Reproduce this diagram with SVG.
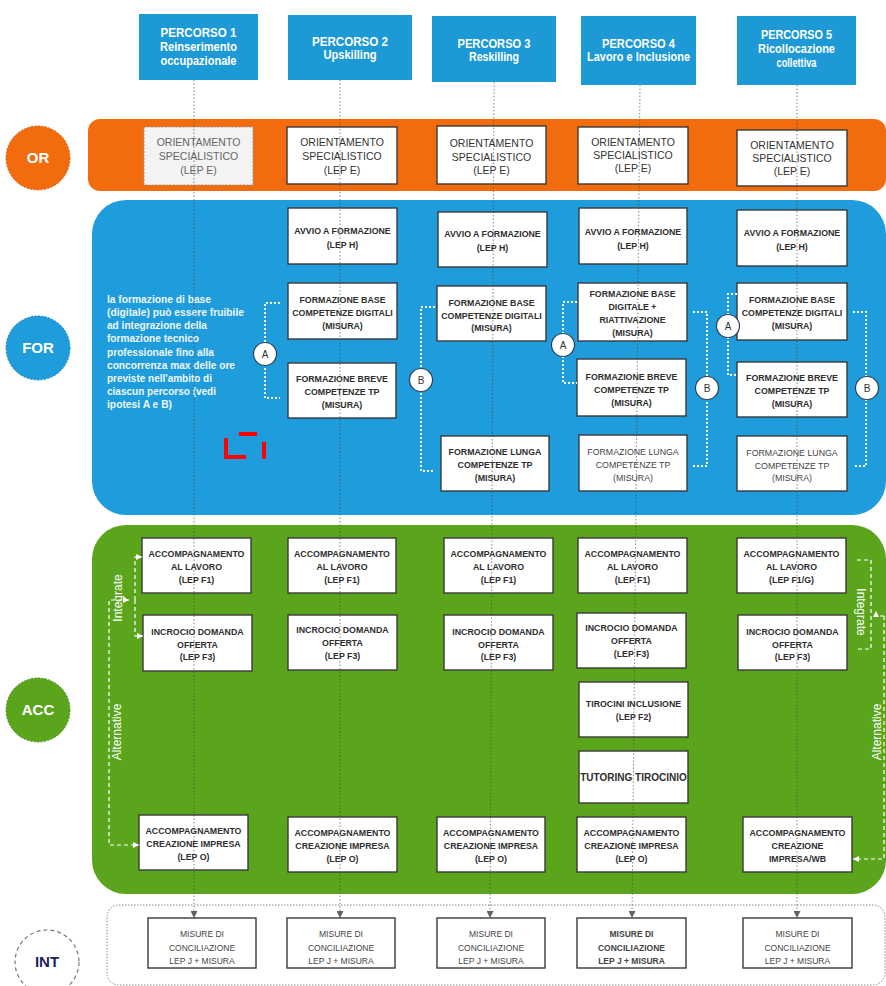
<svg xmlns="http://www.w3.org/2000/svg" width="886" height="986" viewBox="0 0 886 986">
<defs>
<style>
.hdr{fill:#1d9ad6}
.ht{font-family:"Liberation Sans",Arial,sans-serif;font-size:12.5px;font-weight:bold;fill:#fff;text-anchor:middle}
.box{fill:#fff;stroke:#3a3a3a;stroke-width:1.4}
.bt{font-family:"Liberation Sans",Arial,sans-serif;font-size:8.8px;font-weight:bold;fill:#2e2e2e;text-anchor:middle}
.rt{font-family:"Liberation Sans",Arial,sans-serif;font-size:8.8px;fill:#444;text-anchor:middle}
.ot{font-family:"Liberation Sans",Arial,sans-serif;font-size:10.5px;fill:#333;text-anchor:middle}
.it{font-family:"Liberation Sans",Arial,sans-serif;font-size:8.5px;fill:#444;text-anchor:middle}
.lbl{font-family:"Liberation Sans",Arial,sans-serif;font-size:15px;font-weight:bold;fill:#fff;text-anchor:middle}
.ft{font-family:"Liberation Sans",Arial,sans-serif;font-size:11px;font-weight:bold;fill:#eef7fc}
.side{font-family:"Liberation Sans",Arial,sans-serif;font-size:12px;fill:#fff;text-anchor:middle}
.brk{fill:none;stroke:#fff;stroke-width:2;stroke-dasharray:2 2}
.dsh{fill:none;stroke:#fff;stroke-width:1.2;stroke-dasharray:4 3}
.cab{fill:#fff;stroke:#2a3f55;stroke-width:1.2}
.cat{font-family:"Liberation Sans",Arial,sans-serif;font-size:10px;fill:#333;text-anchor:middle}
.col{fill:none;stroke:#444;stroke-width:0.9;stroke-dasharray:1.5 2;opacity:0.7}
</style>
<marker id="ah" viewBox="0 0 10 10" refX="10" refY="5" markerWidth="7" markerHeight="7" orient="auto" markerUnits="userSpaceOnUse"><path d="M0 0 L10 5 L0 10 z" fill="#222"/></marker>
<marker id="wh" viewBox="0 0 10 10" refX="10" refY="5" markerWidth="6" markerHeight="6" orient="auto-start-reverse" markerUnits="userSpaceOnUse"><path d="M0 0 L10 5 L0 10 z" fill="#fff"/></marker>
</defs>

<!-- bands -->
<g id="band-or"><rect x="88" y="119" width="798" height="72" rx="12" fill="#f26b0c"/></g>
<g id="band-for"><rect x="92" y="200" width="794" height="315" rx="34" fill="#1f9cdb"/></g>
<g id="band-acc"><rect x="92" y="525" width="794" height="369" rx="34" fill="#5ba51d"/></g>
<g id="band-int"><rect x="107" y="905" width="778" height="80" rx="12" fill="#fff" stroke="#888" stroke-width="1" stroke-dasharray="1.5 1.5"/></g>

<!-- side circles -->
<g id="c-or"><circle cx="38" cy="158" r="32" fill="#f26b0c" stroke="#d05a0a" stroke-dasharray="2 1.5"/><text class="lbl" x="38" y="163">OR</text></g>
<g id="c-for"><circle cx="38" cy="348" r="32" fill="#1f9cdb" stroke="#1780b8" stroke-dasharray="2 1.5"/><text class="lbl" x="38" y="353">FOR</text></g>
<g id="c-acc"><circle cx="38" cy="710" r="32" fill="#5ba51d" stroke="#4a8a16" stroke-dasharray="2 1.5"/><text class="lbl" x="38" y="715">ACC</text></g>
<g id="c-int"><circle cx="47" cy="962" r="32" fill="#fff" stroke="#777" stroke-width="1.2" stroke-dasharray="4 3"/><text class="lbl" x="47" y="967" style="fill:#1c2456">INT</text></g>

<!-- headers -->
<g id="p1"><rect class="hdr" x="139" y="14" width="119" height="66"/>
<text class="ht" x="198.5" y="37" textLength="76" lengthAdjust="spacingAndGlyphs">PERCORSO 1</text>
<text class="ht" x="198.5" y="51" textLength="77" lengthAdjust="spacingAndGlyphs">Reinserimento</text>
<text class="ht" x="198.5" y="65" textLength="76" lengthAdjust="spacingAndGlyphs">occupazionale</text></g>
<g id="p2"><rect class="hdr" x="288" y="15" width="124" height="65"/>
<text class="ht" x="350" y="46" textLength="76" lengthAdjust="spacingAndGlyphs">PERCORSO 2</text>
<text class="ht" x="350" y="59" textLength="53" lengthAdjust="spacingAndGlyphs">Upskilling</text></g>
<g id="p3"><rect class="hdr" x="432" y="16" width="124" height="66"/>
<text class="ht" x="494" y="48" textLength="73" lengthAdjust="spacingAndGlyphs">PERCORSO 3</text>
<text class="ht" x="494" y="61" textLength="50" lengthAdjust="spacingAndGlyphs">Reskilling</text></g>
<g id="p4"><rect class="hdr" x="581" y="16" width="115" height="69"/>
<text class="ht" x="638.5" y="48" textLength="73" lengthAdjust="spacingAndGlyphs">PERCORSO 4</text>
<text class="ht" x="638.5" y="61" textLength="103" lengthAdjust="spacingAndGlyphs">Lavoro e Inclusione</text></g>
<g id="p5"><rect class="hdr" x="737" y="16" width="119" height="69"/>
<text class="ht" x="796.5" y="39" textLength="71" lengthAdjust="spacingAndGlyphs">PERCORSO 5</text>
<text class="ht" x="796.5" y="53" textLength="77" lengthAdjust="spacingAndGlyphs">Ricollocazione</text>
<text class="ht" x="796.5" y="67" textLength="40" lengthAdjust="spacingAndGlyphs">collettiva</text></g>

<!-- OR boxes -->
<g id="or1"><rect x="144" y="127" width="109" height="58" fill="#f3f3f3" stroke="#999" stroke-width="1.2" stroke-dasharray="2 1.5"/>
<text class="ot" x="198.5" y="146" style="fill:#666">ORIENTAMENTO</text><text class="ot" x="198.5" y="160" style="fill:#666">SPECIALISTICO</text><text class="ot" x="198.5" y="174" style="fill:#666">(LEP E)</text></g>
<g id="or2"><rect class="box" x="287" y="127" width="110" height="57"/>
<text class="ot" x="342" y="146">ORIENTAMENTO</text><text class="ot" x="342" y="160">SPECIALISTICO</text><text class="ot" x="342" y="174">(LEP E)</text></g>
<g id="or3"><rect class="box" x="437" y="126" width="109" height="58"/>
<text class="ot" x="491.5" y="147">ORIENTAMENTO</text><text class="ot" x="491.5" y="161">SPECIALISTICO</text><text class="ot" x="491.5" y="174">(LEP E)</text></g>
<g id="or4"><rect class="box" x="578" y="127" width="110" height="57"/>
<text class="ot" x="633" y="146">ORIENTAMENTO</text><text class="ot" x="633" y="159">SPECIALISTICO</text><text class="ot" x="633" y="172">(LEP E)</text></g>
<g id="or5"><rect class="box" x="737" y="130" width="110" height="56"/>
<text class="ot" x="792" y="149">ORIENTAMENTO</text><text class="ot" x="792" y="162">SPECIALISTICO</text><text class="ot" x="792" y="175">(LEP E)</text></g>

<!-- FOR note -->
<g id="for-note">
<text class="ft" x="107" y="303" textLength="104" lengthAdjust="spacingAndGlyphs">la formazione di base</text>
<text class="ft" x="107" y="316" textLength="137" lengthAdjust="spacingAndGlyphs">(digitale)  può essere fruibile</text>
<text class="ft" x="107" y="329" textLength="100" lengthAdjust="spacingAndGlyphs">ad integrazione della</text>
<text class="ft" x="107" y="342" textLength="92" lengthAdjust="spacingAndGlyphs">formazione tecnico</text>
<text class="ft" x="107" y="356" textLength="107" lengthAdjust="spacingAndGlyphs">professionale fino alla</text>
<text class="ft" x="107" y="369" textLength="128" lengthAdjust="spacingAndGlyphs">concorrenza max delle ore</text>
<text class="ft" x="107" y="382" textLength="105" lengthAdjust="spacingAndGlyphs">previste nell'ambito di</text>
<text class="ft" x="107" y="395" textLength="109" lengthAdjust="spacingAndGlyphs">ciascun percorso (vedi</text>
<text class="ft" x="107" y="408" textLength="65" lengthAdjust="spacingAndGlyphs">ipotesi A e B)</text>
</g>
<g id="red-mark" fill="none" stroke="#f00" stroke-width="4">
<path d="M239 434 H257"/><path d="M226 438 V457 H246"/><path d="M264 442 V459"/>
</g>

<!-- FOR column 2 -->
<g id="f2a"><rect class="box" x="288" y="208" width="109" height="56"/><text class="bt" x="342.5" y="234">AVVIO A FORMAZIONE</text><text class="bt" x="342.5" y="248">(LEP H)</text></g>
<g id="f2b"><rect class="box" x="288" y="283" width="109" height="56"/><text class="bt" x="342.5" y="303">FORMAZIONE BASE</text><text class="bt" x="342.5" y="316">COMPETENZE DIGITALI</text><text class="bt" x="342.5" y="329">(MISURA)</text></g>
<g id="f2c"><rect class="box" x="288" y="363" width="108" height="55"/><text class="bt" x="342" y="382">FORMAZIONE BREVE</text><text class="bt" x="342" y="395">COMPETENZE TP</text><text class="bt" x="342" y="408">(MISURA)</text></g>
<!-- FOR column 3 -->
<g id="f3a"><rect class="box" x="438" y="212" width="109" height="55"/><text class="bt" x="492.5" y="237">AVVIO A FORMAZIONE</text><text class="bt" x="492.5" y="251">(LEP H)</text></g>
<g id="f3b"><rect class="box" x="437" y="286" width="109" height="55"/><text class="bt" x="491.5" y="306">FORMAZIONE BASE</text><text class="bt" x="491.5" y="319">COMPETENZE DIGITALI</text><text class="bt" x="491.5" y="331">(MISURA)</text></g>
<g id="f3d"><rect class="box" x="441" y="436" width="108" height="55"/><text class="bt" x="495" y="455">FORMAZIONE LUNGA</text><text class="bt" x="495" y="468">COMPETENZE TP</text><text class="bt" x="495" y="481">(MISURA)</text></g>
<!-- FOR column 4 -->
<g id="f4a"><rect class="box" x="579" y="208" width="108" height="56"/><text class="bt" x="633" y="235">AVVIO A FORMAZIONE</text><text class="bt" x="633" y="249">(LEP H)</text></g>
<g id="f4b"><rect class="box" x="578" y="283" width="109" height="58"/><text class="bt" x="632.5" y="297">FORMAZIONE  BASE</text><text class="bt" x="632.5" y="310">DIGITALE +</text><text class="bt" x="632.5" y="323">RIATTIVAZIONE</text><text class="bt" x="632.5" y="336">(MISURA)</text></g>
<g id="f4c"><rect class="box" x="577" y="359" width="109" height="57"/><text class="bt" x="631.5" y="380">FORMAZIONE BREVE</text><text class="bt" x="631.5" y="393">COMPETENZE TP</text><text class="bt" x="631.5" y="406">(MISURA)</text></g>
<g id="f4d"><rect class="box" x="579" y="435" width="108" height="56"/><text class="rt" x="633" y="455">FORMAZIONE LUNGA</text><text class="rt" x="633" y="468">COMPETENZE TP</text><text class="rt" x="633" y="481">(MISURA)</text></g>
<!-- FOR column 5 -->
<g id="f5a"><rect class="box" x="737" y="210" width="110" height="56"/><text class="bt" x="792" y="236">AVVIO A FORMAZIONE</text><text class="bt" x="792" y="250">(LEP H)</text></g>
<g id="f5b"><rect class="box" x="737" y="283" width="110" height="57"/><text class="bt" x="792" y="303">FORMAZIONE BASE</text><text class="bt" x="792" y="316">COMPETENZE DIGITALI</text><text class="bt" x="792" y="329">(MISURA)</text></g>
<g id="f5c"><rect class="box" x="737" y="362" width="110" height="55"/><text class="bt" x="792" y="381">FORMAZIONE BREVE</text><text class="bt" x="792" y="394">COMPETENZE TP</text><text class="bt" x="792" y="407">(MISURA)</text></g>
<g id="f5d"><rect class="box" x="737" y="436" width="110" height="55"/><text class="rt" x="792" y="456">FORMAZIONE LUNGA</text><text class="rt" x="792" y="469">COMPETENZE TP</text><text class="rt" x="792" y="481">(MISURA)</text></g>

<!-- ACC column 1 -->
<g id="a1a"><rect class="box" x="142" y="538" width="109" height="55"/><text class="bt" x="196.5" y="557">ACCOMPAGNAMENTO</text><text class="bt" x="196.5" y="570">AL LAVORO</text><text class="bt" x="196.5" y="583">(LEP F1)</text></g>
<g id="a1b"><rect class="box" x="143" y="615" width="109" height="56"/><text class="bt" x="197.5" y="635">INCROCIO DOMANDA</text><text class="bt" x="197.5" y="648">OFFERTA</text><text class="bt" x="197.5" y="660">(LEP  F3)</text></g>
<g id="a1e"><rect class="box" x="139" y="815" width="109" height="55"/><text class="bt" x="193.5" y="834">ACCOMPAGNAMENTO</text><text class="bt" x="193.5" y="847">CREAZIONE IMPRESA</text><text class="bt" x="193.5" y="860">(LEP O)</text></g>
<!-- ACC column 2 -->
<g id="a2a"><rect class="box" x="288" y="538" width="108" height="55"/><text class="bt" x="342" y="557">ACCOMPAGNAMENTO</text><text class="bt" x="342" y="570">AL LAVORO</text><text class="bt" x="342" y="583">(LEP F1)</text></g>
<g id="a2b"><rect class="box" x="288" y="615" width="109" height="55"/><text class="bt" x="342.5" y="633">INCROCIO DOMANDA</text><text class="bt" x="342.5" y="646">OFFERTA</text><text class="bt" x="342.5" y="659">(LEP  F3)</text></g>
<g id="a2e"><rect class="box" x="288" y="817" width="109" height="55"/><text class="bt" x="342.5" y="836">ACCOMPAGNAMENTO</text><text class="bt" x="342.5" y="849">CREAZIONE IMPRESA</text><text class="bt" x="342.5" y="862">(LEP O)</text></g>
<!-- ACC column 3 -->
<g id="a3a"><rect class="box" x="444" y="538" width="109" height="55"/><text class="bt" x="498.5" y="557">ACCOMPAGNAMENTO</text><text class="bt" x="498.5" y="570">AL LAVORO</text><text class="bt" x="498.5" y="583">(LEP F1)</text></g>
<g id="a3b"><rect class="box" x="444" y="615" width="109" height="55"/><text class="bt" x="498.5" y="635">INCROCIO DOMANDA</text><text class="bt" x="498.5" y="648">OFFERTA</text><text class="bt" x="498.5" y="660">(LEP  F3)</text></g>
<g id="a3e"><rect class="box" x="437" y="817" width="108" height="55"/><text class="bt" x="491" y="836">ACCOMPAGNAMENTO</text><text class="bt" x="491" y="849">CREAZIONE IMPRESA</text><text class="bt" x="491" y="862">(LEP O)</text></g>
<!-- ACC column 4 -->
<g id="a4a"><rect class="box" x="578" y="538" width="109" height="55"/><text class="bt" x="632.5" y="557">ACCOMPAGNAMENTO</text><text class="bt" x="632.5" y="570">AL LAVORO</text><text class="bt" x="632.5" y="583">(LEP F1)</text></g>
<g id="a4b"><rect class="box" x="577" y="613" width="109" height="55"/><text class="bt" x="631.5" y="631">INCROCIO DOMANDA</text><text class="bt" x="631.5" y="644">OFFERTA</text><text class="bt" x="631.5" y="657">(LEP  F3)</text></g>
<g id="a4c"><rect class="box" x="579" y="682" width="109" height="55"/><text class="bt" x="633.5" y="707">TIROCINI INCLUSIONE</text><text class="bt" x="633.5" y="720">(LEP F2)</text></g>
<g id="a4d"><rect class="box" x="579" y="751" width="109" height="52"/><text class="bt" x="633.5" y="781" style="font-size:10px">TUTORING TIROCINIO</text></g>
<g id="a4e"><rect class="box" x="577" y="817" width="109" height="55"/><text class="bt" x="631.5" y="836">ACCOMPAGNAMENTO</text><text class="bt" x="631.5" y="849">CREAZIONE IMPRESA</text><text class="bt" x="631.5" y="862">(LEP O)</text></g>
<!-- ACC column 5 -->
<g id="a5a"><rect class="box" x="737" y="538" width="109" height="55"/><text class="bt" x="791.5" y="557">ACCOMPAGNAMENTO</text><text class="bt" x="791.5" y="570">AL LAVORO</text><text class="bt" x="791.5" y="583">(LEP F1/G)</text></g>
<g id="a5b"><rect class="box" x="738" y="615" width="109" height="55"/><text class="bt" x="792.5" y="635">INCROCIO DOMANDA</text><text class="bt" x="792.5" y="648">OFFERTA</text><text class="bt" x="792.5" y="660">(LEP  F3)</text></g>
<g id="a5e"><rect class="box" x="743" y="817" width="109" height="55"/><text class="bt" x="797.5" y="836">ACCOMPAGNAMENTO</text><text class="bt" x="797.5" y="849">CREAZIONE</text><text class="bt" x="797.5" y="862">IMPRESA/WB</text></g>

<!-- INT boxes -->
<g id="i1"><rect class="box" x="148" y="918" width="108" height="50"/><text class="it" x="202" y="937">MISURE DI</text><text class="it" x="202" y="951">CONCILIAZIONE</text><text class="it" x="202" y="964">LEP J + MISURA</text></g>
<g id="i2"><rect class="box" x="287" y="918" width="108" height="50"/><text class="it" x="341" y="937">MISURE DI</text><text class="it" x="341" y="951">CONCILIAZIONE</text><text class="it" x="341" y="964">LEP J + MISURA</text></g>
<g id="i3"><rect class="box" x="437" y="918" width="108" height="50"/><text class="it" x="491" y="937">MISURE DI</text><text class="it" x="491" y="951">CONCILIAZIONE</text><text class="it" x="491" y="964">LEP J + MISURA</text></g>
<g id="i4"><rect class="box" x="577" y="918" width="109" height="50"/><text class="it" x="631.5" y="937" style="font-weight:bold">MISURE DI</text><text class="it" x="631.5" y="951" style="font-weight:bold">CONCILIAZIONE</text><text class="it" x="631.5" y="964" style="font-weight:bold">LEP J + MISURA</text></g>
<g id="i5"><rect class="box" x="743" y="918" width="109" height="50"/><text class="it" x="797.5" y="937">MISURE DI</text><text class="it" x="797.5" y="951">CONCILIAZIONE</text><text class="it" x="797.5" y="964">LEP J + MISURA</text></g>

<!-- connectors -->
<g id="connectors">
<path class="col" d="M194 80 L194 918" marker-end="url(#ah)"/>
<path class="col" d="M340 80 L340 918" marker-end="url(#ah)"/>
<path class="col" d="M494 82 L490 918" marker-end="url(#ah)"/>
<path class="col" d="M640 85 L632 918" marker-end="url(#ah)"/>
<path class="col" d="M797 85 L797 918" marker-end="url(#ah)"/>

<path class="brk" d="M280 303 H265 V398 H280"/>
<path class="brk" d="M435 307 H421 V471 H435"/>
<path class="brk" d="M577 302 H563 V383 H577"/>
<path class="brk" d="M693 312 H707 V466 H693"/>
<path class="brk" d="M737 294 H728 V375 H737"/>
<path class="brk" d="M853 312 H866 V466 H853"/>

<path class="dsh" d="M135 600 V557 H142" marker-end="url(#wh)"/>
<path class="dsh" d="M135 600 V636 H143" marker-end="url(#wh)"/>
<path class="dsh" d="M129 600 H109 V845 H139" marker-start="url(#wh)" marker-end="url(#wh)"/>
<path class="dsh" d="M857 560 H871 V649 H857"/>
<path class="dsh" d="M884 616 H876 V611" marker-end="url(#wh)"/>
<path class="dsh" d="M884 616 V859 H853" marker-end="url(#wh)"/>
</g>

<!-- A/B markers -->
<g id="mA1"><circle class="cab" cx="265" cy="354" r="11.5"/><text class="cat" x="265" y="358">A</text></g>
<g id="mB1"><circle class="cab" cx="421" cy="380" r="11.5"/><text class="cat" x="421" y="384">B</text></g>
<g id="mA2"><circle class="cab" cx="563" cy="345" r="11.5"/><text class="cat" x="563" y="349">A</text></g>
<g id="mB2"><circle class="cab" cx="707" cy="388" r="11.5"/><text class="cat" x="707" y="392">B</text></g>
<g id="mA3"><circle class="cab" cx="728" cy="326" r="11.5"/><text class="cat" x="728" y="330">A</text></g>
<g id="mB3"><circle class="cab" cx="867" cy="388" r="11.5"/><text class="cat" x="867" y="392">B</text></g>

<!-- side labels -->
<g id="side-labels">
<text class="side" transform="translate(122 598) rotate(-90)">Integrate</text>
<text class="side" transform="translate(121 732) rotate(-90)">Alternative</text>
<text class="side" transform="translate(857 612) rotate(90)">Integrate</text>
<text class="side" transform="translate(881 732) rotate(-90)">Alternative</text>
</g>
</svg>
